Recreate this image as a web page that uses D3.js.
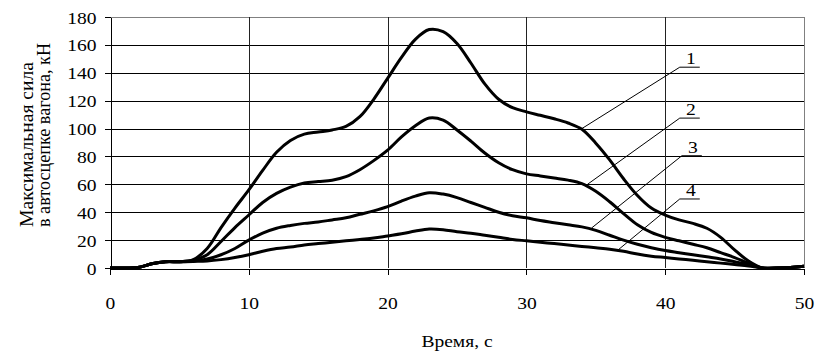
<!DOCTYPE html>
<meta charset="utf-8">
<style>

body {
  margin: 0;
  background: #fff;
}

.grid line {
  stroke-width: 1;
  shape-rendering: crispEdges;
}

.series {
  fill: none;
  stroke: #000;
  stroke-width: 3;
  stroke-linejoin: round;
}

.leader {
  stroke: #000;
  stroke-width: 1;
}

</style>
<body>
<script src="https://cdn.jsdelivr.net/npm/d3@7"></script>
<script>

var time = [0, 1, 2, 3, 4, 5, 6, 7, 8, 9, 10, 11, 12, 13, 14, 15, 16, 17, 18, 19, 20,
  21, 22, 23, 24, 25, 26, 27, 28, 29, 30, 31, 32, 33, 34, 35, 36, 37, 38, 39, 40,
  41, 42, 43, 44, 45, 46, 47, 48, 49, 50];

var force1 = [0, 0, 0.3, 3, 4.5, 4.5, 6, 14, 29, 43, 56, 70, 83, 91.5, 96, 97.5, 99, 101.5, 108.5, 121, 136,
  151, 164, 171, 169.5, 161, 147, 132, 121, 115, 112, 109.5, 107, 104, 99.5, 89.5, 77.5, 64, 52, 43, 38,
  34.5, 32, 28.5, 22, 13, 5, 0, 0, 0.3, 1.2];

var force2 = [0, 0, 0.3, 3, 4.5, 4.5, 5.5, 9.5, 19, 29, 38, 47, 53.5, 58, 61, 62, 63, 65.5, 70.5, 77, 84.5,
  94, 102, 107.5, 106, 99, 91, 82.5, 75.5, 70.5, 67.5, 66, 64.5, 63, 60.5, 55, 47.5, 39, 31, 25.5, 22,
  19.5, 17, 14.5, 11, 7.5, 3.5, 0, 0, 0.3, 1.2];

var force3 = [0, 0, 0.3, 3, 4.5, 4.5, 5, 6.5, 9.5, 14, 20, 25, 28.5, 30.5, 32, 33, 34.5, 36, 38.5, 41, 44,
  48, 51.5, 54, 53, 50.5, 47, 43.5, 40, 37.5, 36, 34, 32.5, 31, 29.5, 27, 23.5, 20, 17, 14.5, 12.5,
  11, 9.5, 8, 6.5, 4.5, 2.5, 0, 0, 0.3, 1.2];

var force4 = [0, 0, 0.3, 3, 4.5, 4.5, 4.7, 5, 6, 7.5, 9.5, 12, 14, 15, 16.5, 17.5, 18.5, 19.5, 20.5, 21.5, 23,
  24.5, 26.5, 28, 27.5, 26, 25, 23.5, 22, 20.5, 19.5, 18.5, 17.5, 16.5, 15.5, 14.5, 13.5, 12, 10, 8.5, 7.5,
  6.5, 5.5, 4.5, 3.5, 2.5, 1.5, 0, 0, 0.3, 1.2];

var seriesNames = ["1", "2", "3", "4"];
// where each leader touches its curve [t, value] and where its label sits [t, value]
var leaderFrom = [[34.0, 100], [34.4, 60], [34.7, 28.7], [36.6, 12.9]];
var leaderTo = [[41.05, 144], [41.05, 107.5], [41.2, 80.5], [41.05, 49.5]];

var xTicks = [0, 10, 20, 30, 40, 50];
var yTicks = [0, 20, 40, 60, 80, 100, 120, 140, 160, 180];

var width = 816, height = 351;
var margin = {top: 17, right: 12, bottom: 83, left: 110};
var stretch = 1.15;
var serif = "'Liberation Serif'";

var x = d3.scaleLinear().domain([0, 50]).range([margin.left, width - margin.right]);
var y = d3.scaleLinear().domain([0, 180]).range([height - margin.bottom, margin.top]);

var svg = d3.select("body").append("svg")
    .attr("width", width)
    .attr("height", height);

var grid = svg.append("g").attr("class", "grid");

grid.selectAll(".h")
    .data(yTicks.slice(1))
  .enter().append("line")
    .attr("x1", x(0))
    .attr("x2", x(50))
    .attr("y1", function(d) { return Math.round(y(d)) + 0.5; })
    .attr("y2", function(d) { return Math.round(y(d)) + 0.5; })
    .attr("stroke", function(d) { return d === 180 ? "#808080" : "#000"; });

grid.selectAll(".v")
    .data(xTicks.slice(1))
  .enter().append("line")
    .attr("x1", function(d) { return Math.round(x(d)) + 0.5; })
    .attr("x2", function(d) { return Math.round(x(d)) + 0.5; })
    .attr("y1", y(180))
    .attr("y2", y(0))
    .attr("stroke", function(d) { return d === 50 ? "#808080" : "#222"; });

// axes
var xAxis = svg.append("g")
    .attr("transform", "translate(0," + (Math.round(y(0)) + 0.5) + ")")
    .call(d3.axisBottom(x).tickValues(xTicks).tickSize(6).tickSizeOuter(0).tickFormat(d3.format("d")));

var yAxis = svg.append("g")
    .attr("transform", "translate(" + (Math.round(x(0)) + 0.5) + ",0)")
    .call(d3.axisLeft(y).tickValues(yTicks).tickSize(6).tickSizeOuter(0).tickFormat(d3.format("d")));

svg.selectAll(".domain, .tick line")
    .attr("stroke", "#000")
    .style("shape-rendering", "crispEdges");

xAxis.selectAll(".tick text")
    .attr("y", null)
    .attr("dy", null)
    .attr("transform", "translate(0,40) scale(" + stretch + ",1)");

yAxis.selectAll(".tick text")
    .attr("x", null)
    .attr("dy", null)
    .attr("transform", "translate(-14,6) scale(" + stretch + ",1)");

// curves
var line = d3.line()
    .x(function(d) { return x(d[0]); })
    .y(function(d) { return y(d[1]); })
    .curve(d3.curveCatmullRom.alpha(0.5));

[force1, force2, force3, force4].forEach(function(values) {
  svg.append("path")
      .attr("class", "series")
      .attr("d", line(time.map(function(t, i) { return [t, values[i]]; })));
});

// leaders with numbered labels
var labels = svg.selectAll(".lab")
    .data(seriesNames)
  .enter().append("g");

labels.append("line")
    .attr("class", "leader")
    .attr("x1", function(d, i) { return x(leaderFrom[i][0]); })
    .attr("y1", function(d, i) { return y(leaderFrom[i][1]); })
    .attr("x2", function(d, i) { return x(leaderTo[i][0]); })
    .attr("y2", function(d, i) { return y(leaderTo[i][1]); });

labels.append("line")
    .attr("class", "leader")
    .attr("x1", function(d, i) { return x(leaderTo[i][0]); })
    .attr("y1", function(d, i) { return y(leaderTo[i][1]); })
    .attr("x2", function(d, i) { return x(leaderTo[i][0]) + 20; })
    .attr("y2", function(d, i) { return y(leaderTo[i][1]); });

labels.append("text")
    .attr("transform", function(d, i) {
      return "translate(" + (x(leaderTo[i][0]) + 11) + "," + (y(leaderTo[i][1]) - 3) + ") scale(" + stretch + ",1)";
    })
    .attr("text-anchor", "middle")
    .text(function(d) { return d; });

// axis titles
svg.append("text")
    .attr("transform", "translate(" + ((x(0) + x(50)) / 2) + ",347) scale(" + stretch + ",1)")
    .attr("text-anchor", "middle")
    .text("Время, с");

var titleLines = [
  {text: "Максимальная сила", base: 33, len: 165},
  {text: "в автосцепке вагона, кН", base: 50, len: 184}
];

svg.selectAll(".ytitle")
    .data(titleLines)
  .enter().append("text")
    .attr("class", "ytitle")
    .attr("transform", function(d) { return "translate(" + d.base + ",227) rotate(-90) scale(1," + stretch + ")"; })
    .attr("text-anchor", "start")
    .attr("textLength", function(d) { return d.len; })
    .attr("lengthAdjust", "spacingAndGlyphs")
    .text(function(d) { return d.text; });

// same serif face and size on every text, set inline
svg.selectAll("text")
    .style("font-family", serif)
    .style("font-size", "17px")
    .style("fill", "#000");

</script>
</body>
